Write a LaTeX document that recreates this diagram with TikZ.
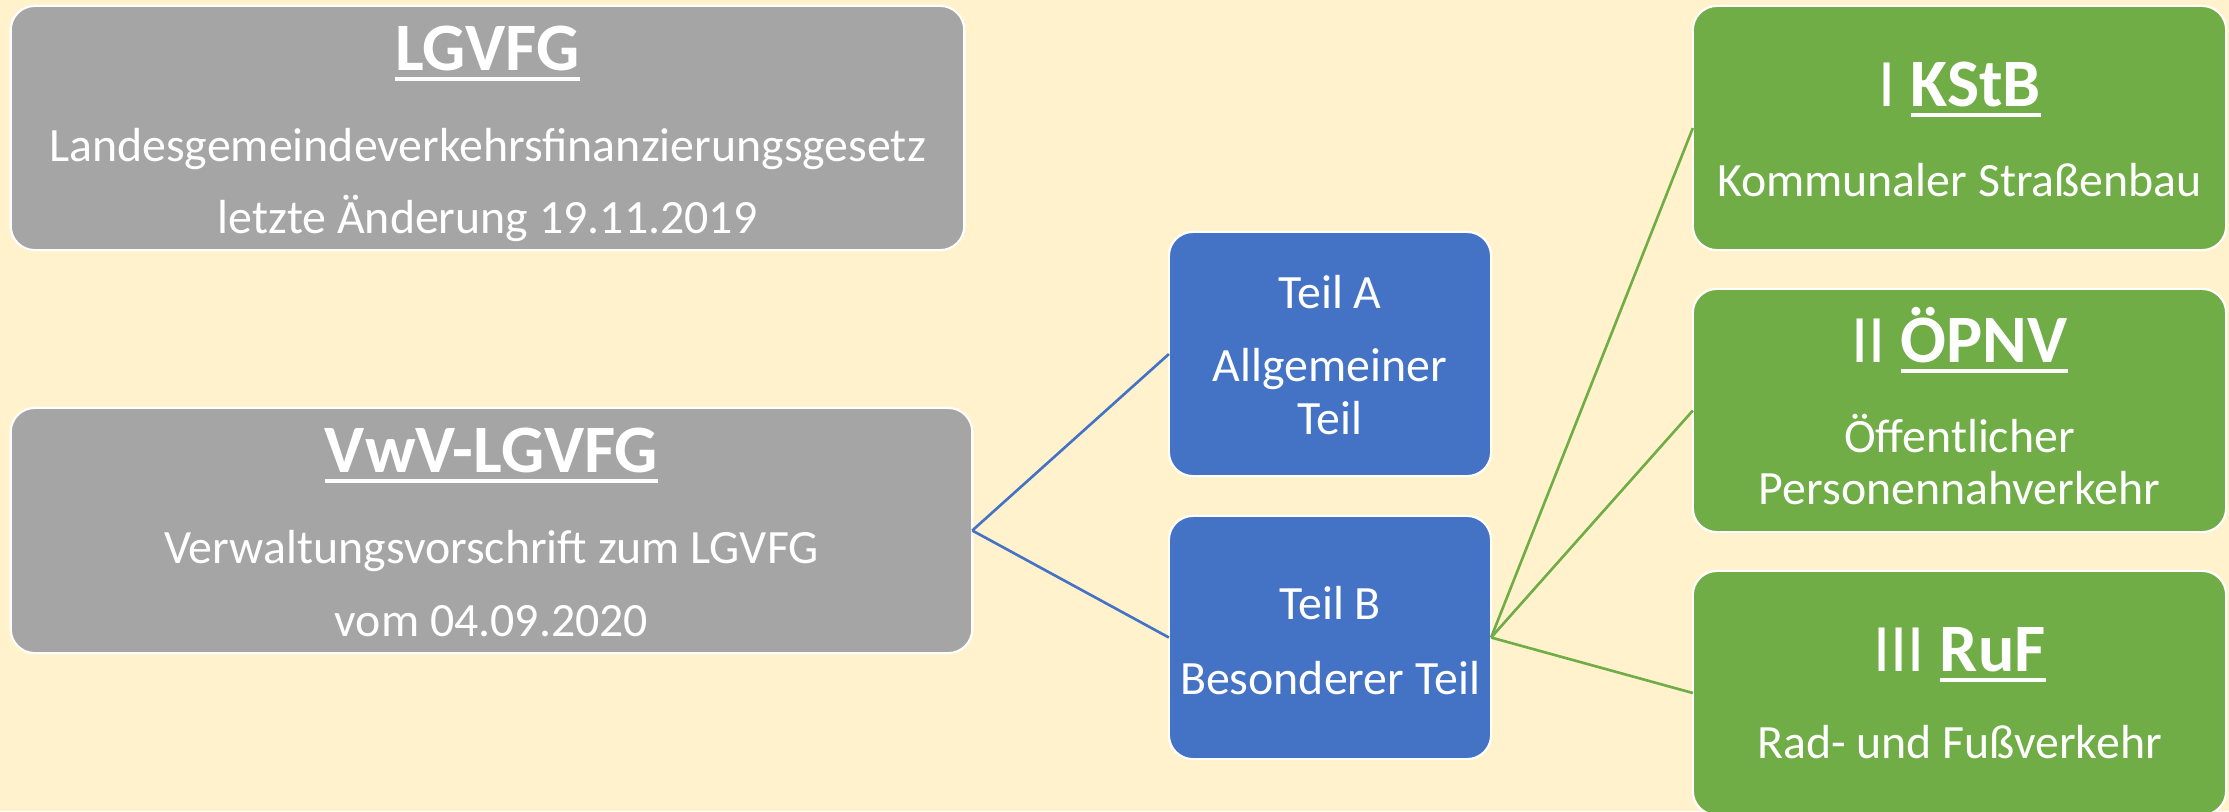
\documentclass[tikz,border=0pt]{standalone}
\usepackage{fontspec}
\setmainfont{Carlito}
\definecolor{bgc}{HTML}{FFF2CC}
\definecolor{grayc}{HTML}{A5A5A5}
\definecolor{bluec}{HTML}{4472C4}
\definecolor{greenc}{HTML}{70AD47}
\newsavebox{\ulbox}
\newcommand{\myul}[1]{\sbox{\ulbox}{#1}\leavevmode\rlap{\rule[-0.16em]{\wd\ulbox}{0.06em}}\usebox{\ulbox}}
\tikzset{
  boxbase/.style={rectangle, rounded corners=0.24cm, draw=white, line width=0.6pt, inner sep=0pt, outer sep=0pt},
  graybox/.style={boxbase, fill=grayc},
  bluebox/.style={boxbase, fill=bluec},
  greenbox/.style={boxbase, fill=greenc},
  ttl/.style={text=white, inner sep=0pt, anchor=base, font=\fontsize{19.3}{23}\selectfont\bfseries},
  sub/.style={text=white, inner sep=0pt, anchor=base, font=\fontsize{13.6}{16}\selectfont},
  bline/.style={draw=bluec, line width=0.75pt},
  gline/.style={draw=greenc, line width=0.75pt}
}
\begin{document}
\begin{tikzpicture}[x=0.01cm, y=-0.01cm]
\fill[bgc] (0,0) rectangle (2229,811);
\useasboundingbox (0,0) rectangle (2229,811);
% boxes
\node[graybox, minimum width=9.53cm, minimum height=2.44cm] (lg) at (487.5,128) {};
\node[graybox, minimum width=9.61cm, minimum height=2.45cm] (vwv) at (491.5,530.5) {};
\node[bluebox, minimum width=3.22cm, minimum height=2.44cm] (ta) at (1330,354) {};
\node[bluebox, minimum width=3.22cm, minimum height=2.43cm] (tb) at (1330,637.5) {};
\node[greenbox, minimum width=5.33cm, minimum height=2.44cm] (k) at (1959.5,128) {};
\node[greenbox, minimum width=5.33cm, minimum height=2.43cm] (o) at (1959.5,410.5) {};
\node[greenbox, minimum width=5.33cm, minimum height=2.44cm] (r) at (1959.5,693) {};
% connectors
\draw[bline] (vwv.east) -- (ta.west);
\draw[bline] (vwv.east) -- (tb.west);
\draw[gline] (tb.east) -- (k.west);
\draw[gline] (tb.east) -- (o.west);
\draw[gline] (tb.east) -- (r.west);
% texts LGVFG
\node[ttl] (lgt) at (487.5,70) {\myul{LGVFG}};
\node[sub] (lgs1) at (487.5,161) {Landesgemeindeverkehrsfinanzierungsgesetz};
\node[sub] (lgs2) at (487.5,233) {letzte Änderung 19.11.2019};
% VwV
\node[ttl] (vwt) at (491.5,472) {\myul{VwV-LGVFG}};
\node[sub] (vws1) at (491.5,563) {Verwaltungsvorschrift zum LGVFG};
\node[sub] (vws2) at (491.5,636) {vom 04.09.2020};
% Teil A
\node[sub] (tat1) at (1330,308) {Teil A};
\node[sub] (tat2) at (1330,381) {Allgemeiner};
\node[sub] (tat3) at (1330,434) {Teil};
% Teil B
\node[sub] (tbt1) at (1330,619) {Teil B};
\node[sub] (tbt2) at (1330,694) {Besonderer Teil};
% KStB
\node[ttl] (kt) at (1959.5,106) {{\mdseries I} \myul{KStB}};
\node[sub] (ks) at (1959.5,196) {Kommunaler Straßenbau};
% OEPNV
\node[ttl] (ot) at (1959.5,362) {{\mdseries II} \myul{ÖPNV}};
\node[sub] (os1) at (1959.5,452) {Öffentlicher};
\node[sub] (os2) at (1959.5,504) {Personennahverkehr};
% RuF
\node[ttl] (rt) at (1959.5,671) {{\mdseries III} \myul{RuF}};
\node[sub] (rs) at (1959.5,758) {Rad- und Fußverkehr};
\end{tikzpicture}
\end{document}
